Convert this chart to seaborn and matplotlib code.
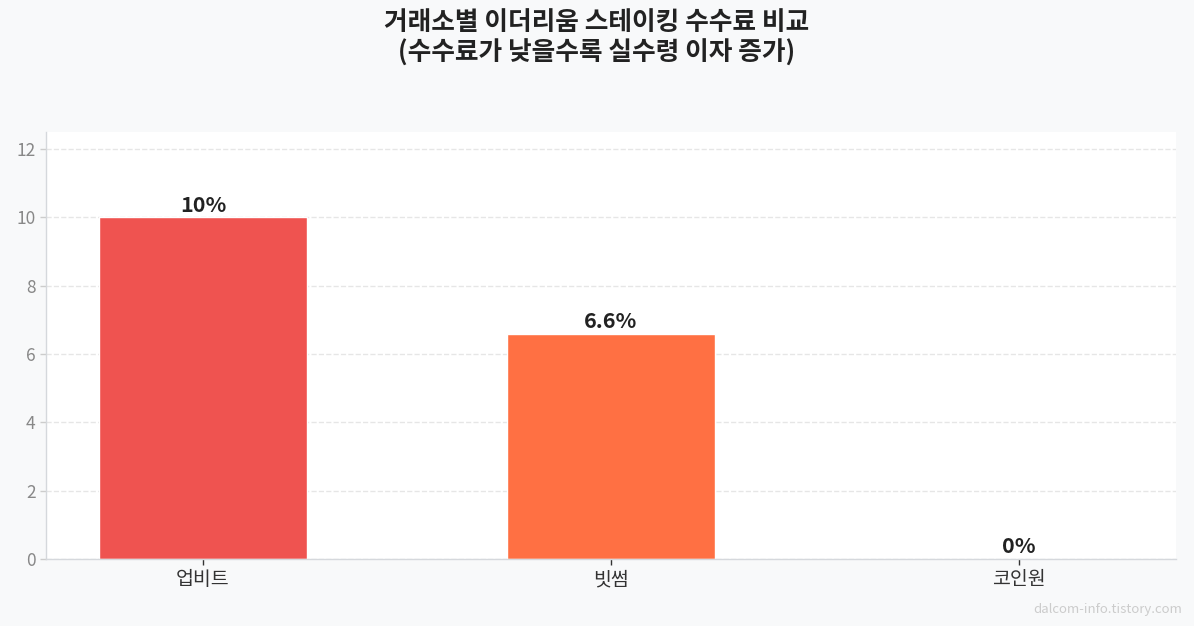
import matplotlib
matplotlib.use("Agg")
import matplotlib.pyplot as plt
import seaborn as sns
import pandas as pd

exchanges = ["업비트", "빗썸", "코인원"]
fees = [10, 6.6, 0]
value_labels = ["10%", "6.6%", "0%"]
bar_colors = ["#EF5350", "#FF7043", "#66BB6A"]
yticks = [0, 2, 4, 6, 8, 10, 12]

sns.set_theme(style="white")
plt.rcParams['font.family'] = ['Noto Sans CJK KR', 'DejaVu Sans']

df = pd.DataFrame({"exchange": exchanges, "fee": fees})

fig = plt.figure(figsize=(11.94, 6.26), dpi=100, facecolor="#F8F9FA")
ax = fig.add_axes([46/1194, 1-559/626, (1176-46)/1194, (559-132)/626])
ax.set_facecolor("white")

sns.barplot(data=df, x="exchange", y="fee", hue="exchange", palette=bar_colors,
            saturation=1, width=0.51, edgecolor="white", linewidth=1, legend=False, ax=ax)

ax.set_xlim(-0.385, 2.385)
ax.set_ylim(0, 12.5)
ax.set_yticks(yticks)
ax.set_xlabel("")
ax.set_ylabel("")
ax.yaxis.grid(True, linestyle="--", color="#E6E6E6", linewidth=1)
ax.set_axisbelow(True)
for s in ["top", "right"]:
    ax.spines[s].set_visible(False)
for s in ["left", "bottom"]:
    ax.spines[s].set_color("#D5D8DC")
    ax.spines[s].set_linewidth(1)
ax.tick_params(axis="y", labelsize=12.5, colors="#888888", length=4, width=1, left=True, color="#CCCCCC")
ax.tick_params(axis="x", labelsize=14, labelcolor="#333333", length=4, width=1, bottom=True, color="#333333")

for i, (v, lab) in enumerate(zip(fees, value_labels)):
    ax.text(i, v + 0.05, lab, ha="center", va="bottom", fontsize=15.5, fontweight="bold", color="#222222")

fig.suptitle("거래소별 이더리움 스테이킹 수수료 비교\n(수수료가 낮을수록 실수령 이자 증가)",
             fontsize=18.5, fontweight="bold", color="#222222", y=0.985, linespacing=1.15)

fig.text(1182/1194, 1-609/626, "dalcom-info.tistory.com", ha="right", va="center",
         fontsize=9.5, color="#CCCCCC")

fig.savefig("out.png", dpi=100, facecolor=fig.get_facecolor())
